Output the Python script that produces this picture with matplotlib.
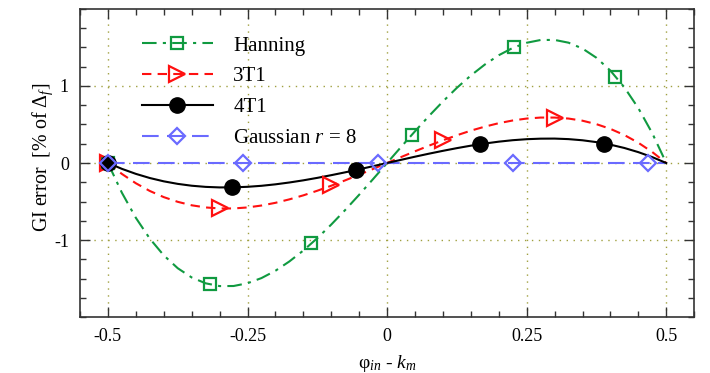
import matplotlib
matplotlib.use("Agg")
import matplotlib.pyplot as plt
from matplotlib.ticker import MultipleLocator

# curve values (x step 0.025)
x_curve = [-0.5, -0.475, -0.45, -0.425, -0.4, -0.375, -0.35, -0.325, -0.3, -0.275,
           -0.25, -0.225, -0.2, -0.175, -0.15, -0.125, -0.1, -0.075, -0.05, -0.025,
           0.0, 0.025, 0.05, 0.075, 0.1, 0.125, 0.15, 0.175, 0.2, 0.225,
           0.25, 0.275, 0.3, 0.325, 0.35, 0.375, 0.4, 0.425, 0.45, 0.475, 0.5]
hann_curve = [0.0, -0.386, -0.712, -0.982, -1.199, -1.366, -1.486, -1.562, -1.598, -1.597,
              -1.561, -1.494, -1.399, -1.278, -1.136, -0.976, -0.799, -0.610, -0.412, -0.208,
              0.0, 0.208, 0.412, 0.610, 0.799, 0.976, 1.136, 1.278, 1.399, 1.494,
              1.561, 1.597, 1.598, 1.562, 1.486, 1.366, 1.199, 0.982, 0.712, 0.386, 0.0]
t3_curve = [0.0, -0.142, -0.263, -0.363, -0.443, -0.504, -0.549, -0.577, -0.590, -0.590,
            -0.577, -0.552, -0.517, -0.472, -0.420, -0.360, -0.295, -0.225, -0.152, -0.077,
            0.0, 0.077, 0.152, 0.225, 0.295, 0.360, 0.420, 0.472, 0.517, 0.552,
            0.577, 0.590, 0.590, 0.577, 0.549, 0.504, 0.443, 0.363, 0.263, 0.142, 0.0]
t4_curve = [0.0, -0.076, -0.141, -0.195, -0.238, -0.271, -0.295, -0.310, -0.317, -0.316,
            -0.309, -0.296, -0.277, -0.253, -0.225, -0.193, -0.158, -0.121, -0.082, -0.041,
            0.0, 0.041, 0.082, 0.121, 0.158, 0.193, 0.225, 0.253, 0.277, 0.296,
            0.309, 0.316, 0.317, 0.310, 0.295, 0.271, 0.238, 0.195, 0.141, 0.076, 0.0]
gauss_curve = [0.0] * 41

# marker positions
hann_x = [-0.5, -0.318, -0.136, 0.045, 0.227, 0.409]
hann_y = [0.0, -1.57, -1.04, 0.37, 1.50, 1.12]
t3_x = [-0.5, -0.3, -0.1, 0.1, 0.3]
t3_y = [0.0, -0.59, -0.29, 0.30, 0.59]
t4_x = [-0.5, -0.278, -0.056, 0.167, 0.389]
t4_y = [0.0, -0.31, -0.09, 0.25, 0.25]
gauss_x = [-0.5, -0.258, -0.016, 0.226, 0.468]
gauss_y = [0.0, 0.0, 0.0, 0.0, 0.0]

labels = ["Hanning", "3T1", "4T1", "Gaussian $r$ = 8"]

plt.rcParams['font.family'] = ['Liberation Serif', 'DejaVu Serif']
plt.rcParams['mathtext.fontset'] = 'custom'
plt.rcParams['mathtext.rm'] = 'Liberation Serif'
plt.rcParams['mathtext.it'] = 'Liberation Serif:italic'
plt.rcParams['axes.unicode_minus'] = False

fig = plt.figure(figsize=(7.1, 3.73), dpi=100)
ax = fig.add_axes([0.1127, 0.150, 0.865, 0.826])

green = '#109a40'
red = '#ff1010'
blue = '#6a6aff'

ax.plot(x_curve, hann_curve, color=green, lw=1.5, dashes=(7, 3, 1.5, 3), zorder=3)
ax.plot(x_curve, t3_curve, color=red, lw=1.5, dashes=(4.5, 3), zorder=3)
ax.plot(x_curve, t4_curve, color='black', lw=1.5, zorder=4)
ax.plot(x_curve, gauss_curve, color=blue, lw=1.5, dashes=(8, 4), zorder=3)

ax.plot(hann_x, hann_y, ls='none', marker='s', ms=8.8, mfc='none', mec=green, mew=1.6, zorder=5)
ax.plot(t3_x, t3_y, ls='none', marker='>', ms=11, mfc='none', mec=red, mew=1.6, zorder=5)
ax.plot(t4_x, t4_y, ls='none', marker='o', ms=11, color='black', zorder=6)
ax.plot(gauss_x, gauss_y, ls='none', marker='D', ms=7.8, mfc='none', mec=blue, mew=1.6, zorder=7)

# legend handles
h1, = ax.plot([], [], color=green, lw=1.5, dashes=(7, 3, 1.5, 3), marker='s', ms=8.8, mfc='none', mec=green, mew=1.6)
h2, = ax.plot([], [], color=red, lw=1.5, dashes=(4.5, 3), marker='>', ms=11, mfc='none', mec=red, mew=1.6)
h3, = ax.plot([], [], color='black', lw=1.5, marker='o', ms=11)
h4, = ax.plot([], [], color=blue, lw=1.5, dashes=(8, 4), marker='D', ms=7.8, mfc='none', mec=blue, mew=1.6)
ax.legend([h1, h2, h3, h4], labels, loc='upper left', bbox_to_anchor=(0.07, 0.973),
          frameon=False, fontsize=15, handlelength=3.4, handletextpad=1.0,
          labelspacing=0.54, numpoints=1)

ax.set_xlim(-0.55, 0.55)
ax.set_ylim(-2, 2)
ax.xaxis.set_major_locator(MultipleLocator(0.25))
ax.xaxis.set_minor_locator(MultipleLocator(0.05))
ax.yaxis.set_major_locator(MultipleLocator(1))
ax.yaxis.set_minor_locator(MultipleLocator(0.25))
ax.set_xticks([-0.5, -0.25, 0, 0.25, 0.5])
ax.set_xticklabels(['-0.5', '-0.25', '0', '0.25', '0.5'])
ax.set_yticks([-1, 0, 1])
ax.set_yticklabels(['-1', '0', '1'])
ax.tick_params(which='both', direction='in', top=True, right=True, labelsize=13, color='#333333')
ax.tick_params(which='major', length=7, width=1.0, pad=8)
ax.tick_params(which='minor', length=4, width=1.0)
for s in ax.spines.values():
    s.set_color('#333333')
    s.set_linewidth(1.2)

ax.grid(True, which='major', color='#a0a040', ls=(0, (1, 4)), lw=1.0, zorder=0)

ax.set_xlabel("φ$_{in}$ - $k_m$", fontsize=14, labelpad=6)
ax.set_ylabel("GI error  [% of $\\Delta_f$]", fontsize=14.4)
ax.yaxis.set_label_coords(-0.04, 0.518)

fig.savefig("out.png", dpi=100)
